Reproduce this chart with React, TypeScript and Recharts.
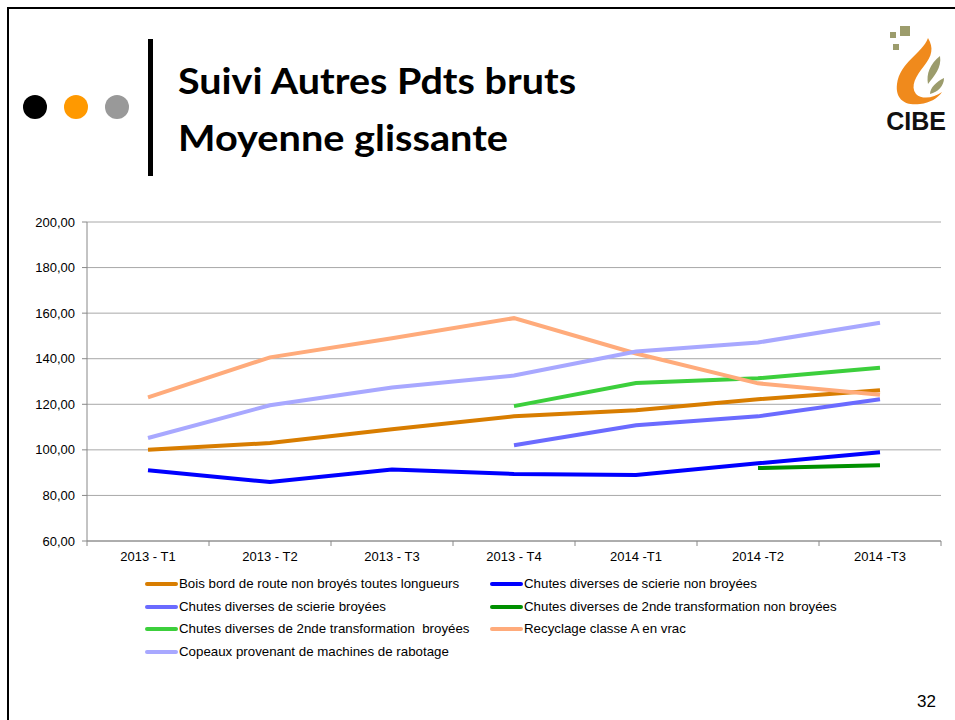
import React from "react";
import { LineChart, Line, XAxis, YAxis, CartesianGrid } from "recharts";

const quarters = ["2013 - T1", "2013 - T2", "2013 - T3", "2013 - T4", "2014 -T1", "2014 -T2", "2014 -T3"];
const yTicks = [60, 80, 100, 120, 140, 160, 180, 200];

const boisBordRoute = [100, 103, 109, 114.7, 117.4, 122.2, 126.2];
const scierieNonBroyees = [91, 85.9, 91.4, 89.4, 89, 94.1, 99];
const scierieBroyees = [null, null, null, 102, 110.8, 114.7, 122.2];
const secondeNonBroyees = [null, null, null, null, null, 92, 93.2];
const secondeBroyees = [null, null, null, 119.2, 129.3, 131.4, 136];
const recyclage = [123, 140.6, 149, 157.8, 142.3, 129.2, 124.2];
const copeaux = [105.2, 119.6, 127.4, 132.6, 143.2, 147.1, 155.8];

const series = [
  { key: "bois", name: "Bois bord de route non broyés toutes longueurs", color: "#D87D00", values: boisBordRoute },
  { key: "scierieNB", name: "Chutes diverses de scierie non broyées", color: "#0000FF", values: scierieNonBroyees },
  { key: "scierieB", name: "Chutes diverses de scierie broyées", color: "#6B6BFF", values: scierieBroyees },
  { key: "secondeNB", name: "Chutes diverses de 2nde transformation non broyées", color: "#009000", values: secondeNonBroyees },
  { key: "secondeB", name: "Chutes diverses de 2nde transformation  broyées", color: "#3CCF3C", values: secondeBroyees },
  { key: "recyclage", name: "Recyclage classe A en vrac", color: "#FFAB7B", values: recyclage },
  { key: "copeaux", name: "Copeaux provenant de machines de rabotage", color: "#A8A8FF", values: copeaux },
];

const data = quarters.map((q, i) => {
  const row: Record<string, string | number | null> = { quarter: q };
  series.forEach((s) => {
    row[s.key] = s.values[i];
  });
  return row;
});

const PLOT_LEFT = 87;
const PLOT_RIGHT = 941;
const HALF_BAND = (PLOT_RIGHT - PLOT_LEFT) / quarters.length / 2;
const ARIAL = "'Liberation Sans', Arial, sans-serif";

const CategoryTick = (props: any) => {
  const { x, y, payload, index } = props;
  const last = index === quarters.length - 1;
  return (
    <g>
      <line x1={x - HALF_BAND} x2={x - HALF_BAND} y1={y - 8} y2={y - 3} stroke="#888" />
      {last && <line x1={x + HALF_BAND} x2={x + HALF_BAND} y1={y - 8} y2={y - 3} stroke="#888" />}
      <text x={x} y={y + 12} textAnchor="middle" fontSize={13} fill="#000" fontFamily={ARIAL}>
        {payload.value}
      </text>
    </g>
  );
};

const fmt = (v: number) => v.toFixed(2).replace(".", ",");

const Logo = () => (
  <svg width={75} height={120} style={{ position: "absolute", left: 878, top: 18 }} viewBox="0 0 75 120">
    <rect x={22} y={8} width={10} height={10} fill="#9C9C6C" />
    <rect x={12} y={14} width={6} height={6} fill="#9C9C6C" />
    <rect x={15} y={26} width={6} height={6} fill="#9C9C6C" />
    <path
      d="M50 20 C44 36 22 44 19 66 C17 82 28 88 42 86 C52 85 60 80 64 74 C56 80 44 82 38 76 C32 68 38 58 46 48 C54 38 56 30 50 20 Z"
      fill="#F08A1C"
    />
    <path d="M62 38 C52 46 48 56 50 66 C56 58 64 50 62 38 Z" fill="#9C9C6C" />
    <path d="M66 60 C58 64 52 70 52 76 C60 74 66 68 66 60 Z" fill="#9C9C6C" />
    <text x={38} y={112} textAnchor="middle" fontSize={25} fontWeight="bold" fill="#111" fontFamily="'Liberation Sans Narrow', sans-serif">
      CIBE
    </text>
  </svg>
);

export default function App() {
  return (
    <div style={{ position: "absolute", left: 0, top: 0, width: 955, height: 720, background: "#fff", overflow: "hidden" }}>
      <div style={{ position: "absolute", left: 7, top: 7, width: 960, height: 720, borderLeft: "2px solid #000", borderTop: "2px solid #000" }} />
      <div style={{ position: "absolute", left: 23, top: 95, width: 24, height: 24, borderRadius: 12, background: "#000" }} />
      <div style={{ position: "absolute", left: 64, top: 95, width: 24, height: 24, borderRadius: 12, background: "#FF9900" }} />
      <div style={{ position: "absolute", left: 105, top: 95, width: 24, height: 24, borderRadius: 12, background: "#999" }} />
      <div style={{ position: "absolute", left: 148, top: 39, width: 5, height: 137, background: "#000" }} />
      <svg width={700} height={170} style={{ position: "absolute", left: 0, top: 0 }}>
        <g fontFamily="Lato, sans-serif" fontWeight={700} fontSize={36} fill="#000">
          <text x={178} y={94} textLength={398} lengthAdjust="spacingAndGlyphs">
            Suivi Autres Pdts bruts
          </text>
          <text x={178} y={151} textLength={330} lengthAdjust="spacingAndGlyphs">
            Moyenne glissante
          </text>
        </g>
      </svg>
      <Logo />

      <div style={{ position: "absolute", left: 0, top: 0 }}>
        <LineChart width={955} height={720} data={data} margin={{ top: 222, right: 955 - PLOT_RIGHT, bottom: 149, left: 0 }}>
          <CartesianGrid vertical={false} stroke="#A8A8A8" />
          <XAxis
            dataKey="quarter"
            stroke="#888"
            tickLine={false}
            height={30}
            tick={<CategoryTick />}
            interval={0}
            padding={{ left: HALF_BAND, right: HALF_BAND }}
          />
          <YAxis
            width={PLOT_LEFT}
            domain={[60, 200]}
            ticks={yTicks}
            tickFormatter={fmt}
            stroke="#888"
            tickSize={5}
            tickMargin={7}
            tick={{ fontSize: 13, fill: "#000", fontFamily: ARIAL }}
          />
          {series.map((s) => (
            <Line
              key={s.key}
              dataKey={s.key}
              name={s.name}
              stroke={s.color}
              strokeWidth={4}
              dot={false}
              activeDot={false}
              isAnimationActive={false}
            />
          ))}
        </LineChart>
      </div>

      <div
        style={{
          position: "absolute",
          left: 145,
          top: 575,
          display: "grid",
          gridTemplateColumns: "345px 380px",
          rowGap: 4.6,
          fontFamily: ARIAL,
          fontSize: 13.3,
          color: "#000",
          lineHeight: "18px",
        }}
      >
        {series.map((s) => (
          <div key={s.key} style={{ display: "flex", alignItems: "center", whiteSpace: "pre" }}>
            <span style={{ display: "inline-block", width: 33, height: 4, borderRadius: 2, background: s.color, marginRight: 1 }} />
            {s.name}
          </div>
        ))}
      </div>

      <div style={{ position: "absolute", left: 917, top: 692, fontFamily: ARIAL, fontSize: 17 }}>32</div>
    </div>
  );
}
